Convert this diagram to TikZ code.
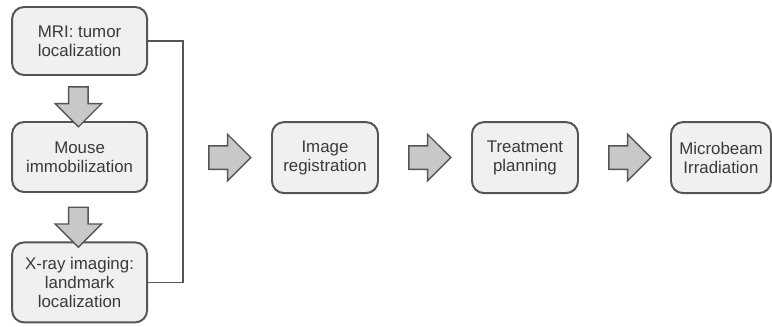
\documentclass[tikz,border=0pt]{standalone}
\usepackage{fontspec}
\setmainfont{Liberation Sans}
\usetikzlibrary{shapes.arrows}
\definecolor{boxfill}{HTML}{F0F0F0}
\definecolor{boxline}{HTML}{555555}
\definecolor{arrowfill}{HTML}{C8C8C8}
\definecolor{textgray}{HTML}{3A3A3A}
\tikzset{every node/.style={font=\fontsize{12}{13.5}\selectfont, text=textgray},
  stage/.style={draw=boxline, line width=1.4pt, fill=boxfill, rounded corners=0.3cm, align=center, inner sep=0pt},
  bigarrow/.style={single arrow, draw=boxline, line width=1pt, fill=arrowfill, inner xsep=0pt, inner ysep=0.275cm, minimum width=1.125cm, single arrow head extend=0.2875cm, minimum height=1.05cm},
  downarrow/.style={bigarrow, rotate=-90, inner ysep=0.225cm, single arrow head extend=0.3375cm, minimum height=1.0cm}}

\begin{document}
\begin{tikzpicture}
  \useasboundingbox (0,0) rectangle (19.3,-8.175);
  \clip (0,0) rectangle (19.3,-8.175);

  \node[stage, minimum width=3.375cm, minimum height=1.7cm]  (mri)   at (1.99,-1.025) {MRI: tumor\\localization};
  \node[stage, minimum width=3.375cm, minimum height=1.75cm] (mouse) at (1.99,-3.925) {Mouse\\immobilization};
  \node[stage, minimum width=3.375cm, minimum height=2.0cm]  (xray)  at (1.99,-7.06)  {X-ray imaging:\\landmark\\localization};

  \node[stage, minimum width=2.65cm, minimum height=1.775cm] (reg)  at (8.125,-3.94)  {Image\\registration};
  \node[stage, minimum width=2.65cm, minimum height=1.775cm] (plan) at (13.125,-3.94) {Treatment\\planning};
  \node[stage, minimum width=2.5cm,  minimum height=1.775cm] (beam) at (18.025,-3.94) {Microbeam\\Irradiation};

  \node[downarrow] (down1) at (1.96,-2.55) {};
  \node[downarrow] (down2) at (1.96,-5.56) {};

  \node[bigarrow] (right1) at (5.6,-3.94)  {};
  \node[bigarrow] (right2) at (10.6,-3.94) {};
  \node[bigarrow] (right3) at (15.6,-3.94) {};

  \draw[boxline, line width=1pt] (mri.east) -- ++(0.875,0) |- (xray.east);
\end{tikzpicture}
\end{document}
